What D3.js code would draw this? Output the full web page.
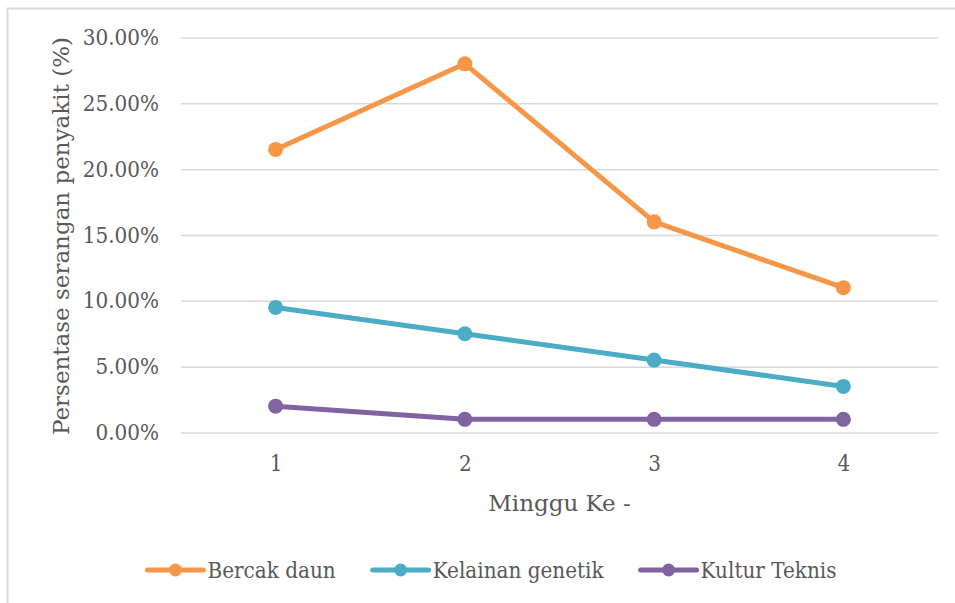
<!DOCTYPE html>
<html>
<head>
<meta charset="utf-8">
<script src="https://cdn.jsdelivr.net/npm/d3@7"></script>
<style>
  html, body { margin: 0; padding: 0; background: #fff; }
  svg { display: block; }
</style>
</head>
<body>
<div id="chart"></div>
<script>
// chart data
const weeks = [1, 2, 3, 4];
const seriesNames = ["Bercak daun", "Kelainan genetik", "Kultur Teknis"];
const bercakDaun = [0.215, 0.28, 0.16, 0.11];
const kelainanGenetik = [0.095, 0.075, 0.055, 0.035];
const kulturTeknis = [0.02, 0.01, 0.01, 0.01];
const yTicks = [0, 0.05, 0.10, 0.15, 0.20, 0.25, 0.30];
const colors = ["#F79646", "#4BACC6", "#8064A2"];

const W = 955, H = 603;
const font = "'DejaVu Serif', serif";
const textColor = "#595959";
const gridColor = "#d9d9d9";
const squeeze = 0.91; // original font is narrower than DejaVu

const svg = d3.select("#chart").append("svg")
  .attr("width", W)
  .attr("height", H);

// outer chart frame (runs off the right / bottom edges)
svg.append("rect")
  .attr("x", 7.5).attr("y", 8.5)
  .attr("width", 1000).attr("height", 700)
  .attr("fill", "none")
  .attr("stroke", gridColor)
  .attr("stroke-width", 2);

// scales
const x = d3.scalePoint().domain(weeks).range([181, 938]).padding(0.5);
const y = d3.scaleLinear().domain([0, 0.30]).range([432.5, 37.5]);

// squeeze a tick label horizontally around its own anchor
const narrow = function() {
  const tx = +this.getAttribute("x") || 0;
  this.setAttribute("x", 0);
  this.setAttribute("transform", `translate(${tx},0) scale(${squeeze},1)`);
};

// gridlines + y tick labels
const yAxis = svg.append("g")
  .attr("transform", "translate(181,0)")
  .call(d3.axisLeft(y).tickValues(yTicks).tickFormat(d3.format(".2%")).tickSize(-(938 - 181)).tickPadding(22));
yAxis.select(".domain").remove();
yAxis.selectAll("line").attr("stroke", gridColor).attr("stroke-width", 1.5);
yAxis.selectAll("text")
  .style("font-family", font)
  .style("font-size", "22px")
  .attr("fill", textColor)
  .each(narrow);

// x tick labels
const xAxis = svg.append("g")
  .attr("transform", "translate(0,432.5)")
  .call(d3.axisBottom(x).tickSize(0).tickPadding(23));
xAxis.select(".domain").remove();
xAxis.selectAll("text")
  .style("font-family", font)
  .style("font-size", "22px")
  .attr("fill", textColor)
  .each(narrow);

// axis titles
svg.append("text")
  .attr("x", 559.5)
  .attr("y", 511)
  .attr("text-anchor", "middle")
  .style("font-family", font)
  .style("font-size", "23px")
  .attr("fill", textColor)
  .text("Minggu Ke -");

svg.append("text")
  .attr("transform", "translate(69,236) rotate(-90)")
  .attr("text-anchor", "middle")
  .style("font-family", font)
  .style("font-size", "23px")
  .attr("fill", textColor)
  .text("Persentase serangan penyakit (%)");

// series lines and markers
const allSeries = [bercakDaun, kelainanGenetik, kulturTeknis];
const line = d3.line()
  .x((d, i) => x(weeks[i]))
  .y(d => y(d));

allSeries.forEach((vals, s) => {
  svg.append("path")
    .datum(vals)
    .attr("fill", "none")
    .attr("stroke", colors[s])
    .attr("stroke-width", 5)
    .attr("stroke-linejoin", "round")
    .attr("d", line);

  svg.selectAll(null)
    .data(vals)
    .join("circle")
    .attr("cx", (d, i) => x(weeks[i]))
    .attr("cy", d => y(d))
    .attr("r", 7.5)
    .attr("fill", colors[s]);
});

// legend, centered under the chart
const legend = svg.append("g");
let lx = 0;
seriesNames.forEach((name, s) => {
  const item = legend.append("g").attr("transform", `translate(${lx},0)`);
  item.append("line")
    .attr("x1", 0).attr("x2", 56)
    .attr("y1", 0).attr("y2", 0)
    .attr("stroke", colors[s])
    .attr("stroke-width", 5)
    .attr("stroke-linecap", "round");
  item.append("circle")
    .attr("cx", 28).attr("cy", 0)
    .attr("r", 6.5)
    .attr("fill", colors[s]);
  const t = item.append("text")
    .attr("transform", `translate(60,8) scale(${squeeze},1)`)
    .style("font-family", font)
    .style("font-size", "22px")
    .attr("fill", textColor)
    .text(name);
  lx += 60 + t.node().getComputedTextLength() * squeeze + 37;
});
const legendWidth = lx - 37;
legend.attr("transform", `translate(${492 - legendWidth / 2},570)`);
</script>
</body>
</html>
